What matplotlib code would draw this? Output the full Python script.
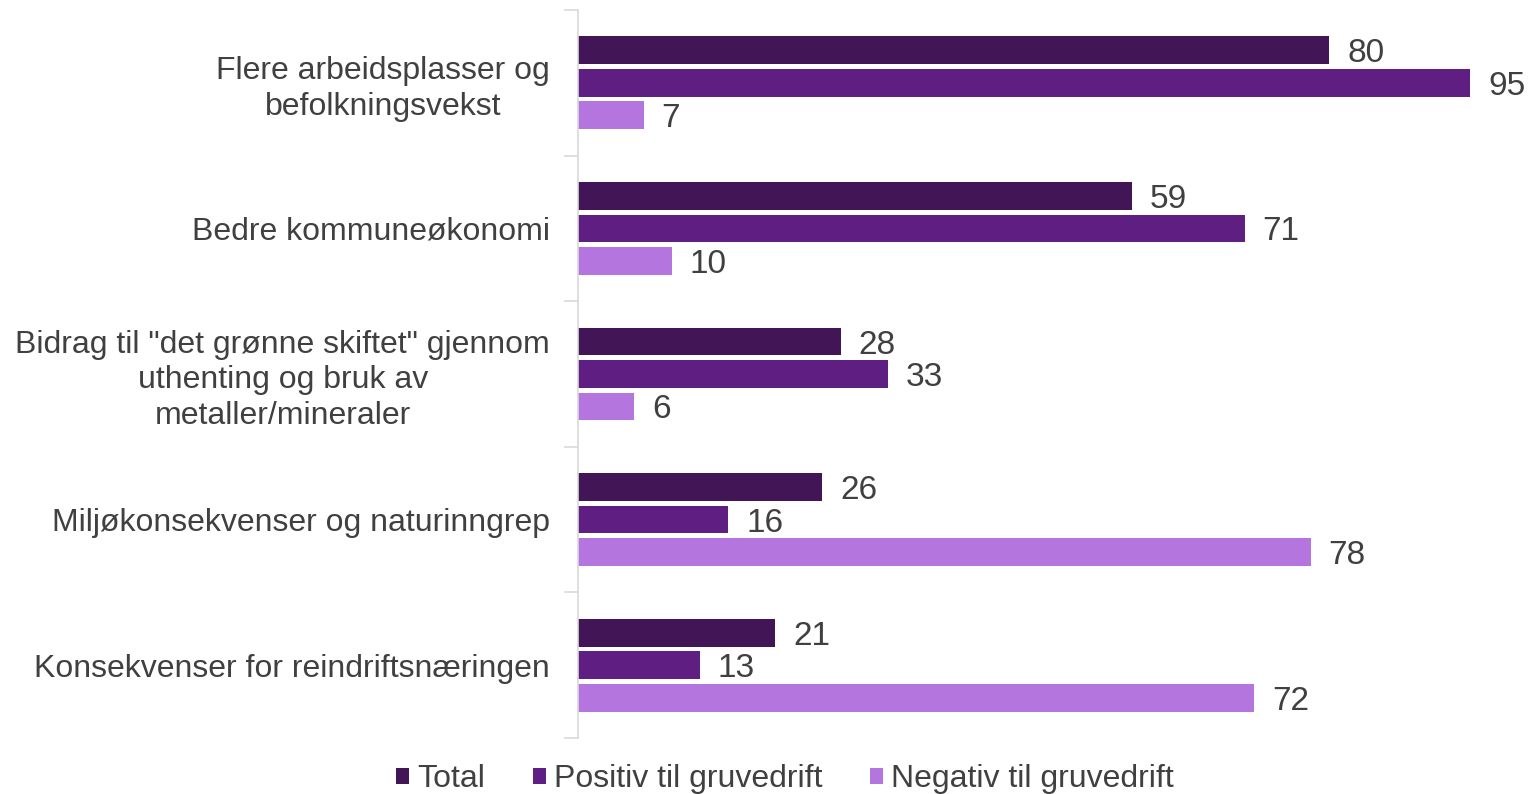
import matplotlib.pyplot as plt
import numpy as np

plt.rcParams['font.family'] = ['Liberation Sans', 'DejaVu Sans']

categories = [
    'Flere arbeidsplasser og\nbefolkningsvekst',
    'Bedre kommuneøkonomi',
    'Bidrag til "det grønne skiftet" gjennom\nuthenting og bruk av\nmetaller/mineraler',
    'Miljøkonsekvenser og naturinngrep',
    'Konsekvenser for reindriftsnæringen',
]
series_names = ['Total', 'Positiv til gruvedrift', 'Negativ til gruvedrift']
total = [80, 59, 28, 26, 21]
positiv = [95, 71, 33, 16, 13]
negativ = [7, 10, 6, 78, 72]
colors = ['#421656', '#5f1f82', '#b575df']

fig = plt.figure(figsize=(15.32, 7.94), dpi=100)
ax = fig.add_axes([578 / 1532, 1 - 738 / 794, (1519 - 578) / 1532, (738 - 10) / 794])

y = np.arange(len(categories))
pitch = 0.223
height = 0.19
for i, (name, vals, c) in enumerate(zip(series_names, [total, positiv, negativ], colors)):
    pos = y + (i - 1) * pitch
    ax.barh(pos, vals, height=height, color=c, label=name)
    for yy, v in zip(pos, vals):
        ax.text(v + 1.9, yy, str(v), va='center_baseline', ha='left', fontsize=24, color='#404040')

ax.set_xlim(0, 100.2)
ax.set_ylim(len(categories) - 0.5, -0.5)
ax.set_yticks(y)
ax.set_yticklabels(categories, fontsize=23, color='#404040', ha='right',
                   multialignment='center', linespacing=1.25)
ax.tick_params(axis='y', which='major', length=0, pad=20)
ax.set_yticks(np.arange(-0.5, len(categories)), minor=True)
ax.tick_params(axis='y', which='minor', length=10, color='#d9d9d9', width=1.2)
ax.set_xticks([])
for s in ['top', 'right', 'bottom']:
    ax.spines[s].set_visible(False)
ax.spines['left'].set_color('#d9d9d9')
ax.spines['left'].set_linewidth(1.2)

fig.legend(loc='center', bbox_to_anchor=(785 / 1532, 1 - 779 / 794), ncol=3, frameon=False,
           fontsize=23, handlelength=0.4, handleheight=0.4, handletextpad=0.25,
           columnspacing=1.5, labelcolor='#404040')

fig.savefig('out.png', dpi=100)
